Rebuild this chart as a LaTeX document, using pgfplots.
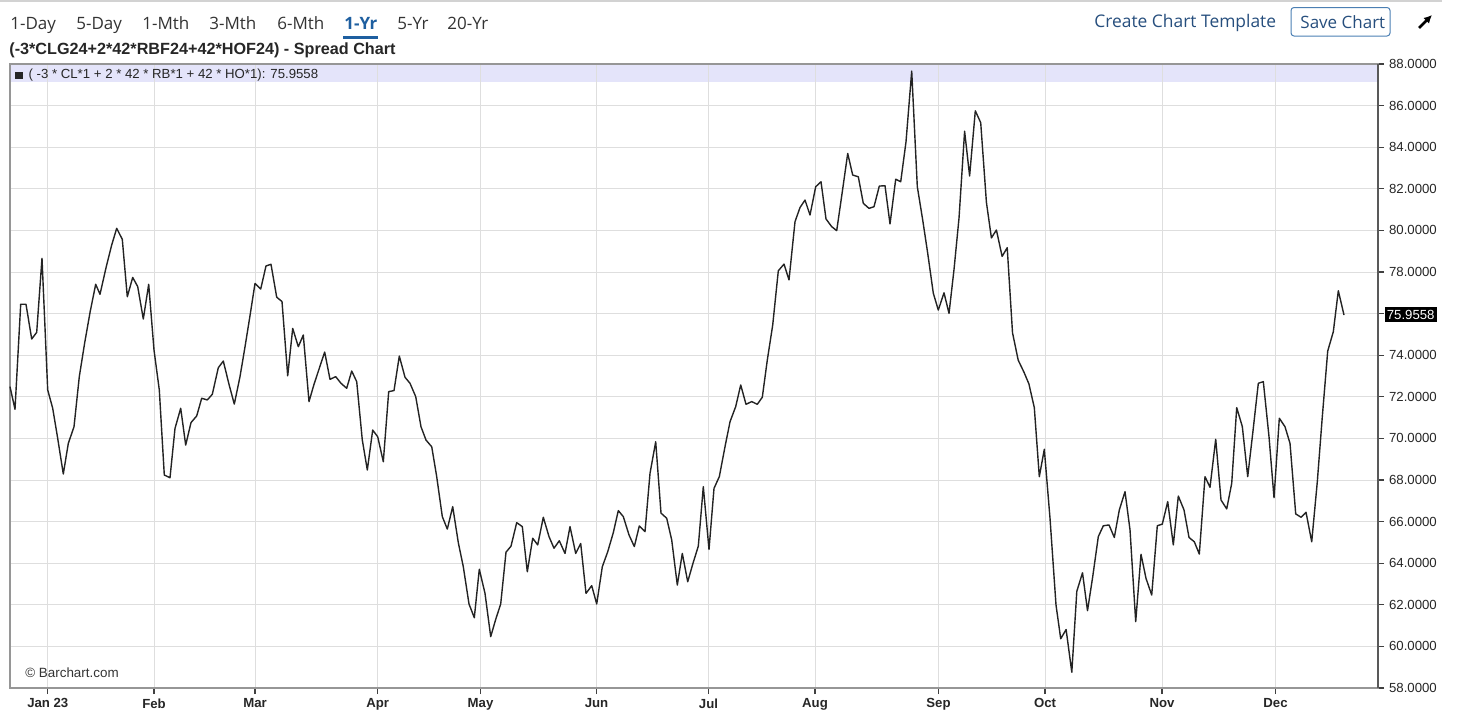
\documentclass[border=0pt]{standalone}
\usepackage{pgfplots}
\pgfplotsset{compat=1.18}
\usepackage{fontspec}
\setmainfont{Liberation Sans}
\newfontfamily\opensans{Open Sans}
\usetikzlibrary{arrows.meta}

\definecolor{gridc}{RGB}{222,222,222}
\definecolor{framec}{RGB}{150,150,150}
\definecolor{bandc}{RGB}{228,228,250}
\definecolor{linkblue}{RGB}{38,78,125}
\definecolor{tabblue}{RGB}{30,95,160}
\definecolor{txtc}{RGB}{51,51,51}
\definecolor{linec}{RGB}{35,35,35}

\begin{document}
\begin{tikzpicture}
\begin{scope}[x=0.5pt,y=-0.5pt]
\path[use as bounding box] (0,0) rectangle (1465,725);
\draw[gray!35, line width=0.8pt] (0,1) -- (1442,1);

% toolbar
\begin{scope}[every node/.style={anchor=base west, inner sep=0pt, text=txtc,
    font=\opensans\fontsize{8.5}{10}\selectfont}]
  \node at (10,29) {1-Day};
  \node at (76,29) {5-Day};
  \node at (142,29) {1-Mth};
  \node at (209,29) {3-Mth};
  \node at (277,29) {6-Mth};
  \node[text=tabblue, font=\opensans\bfseries\fontsize{8.5}{10}\selectfont] at (344,29) {1-Yr};
  \node at (397,29) {5-Yr};
  \node at (447,29) {20-Yr};
  \node[text=linkblue, font=\opensans\fontsize{8.7}{10}\selectfont] at (1094,27) {Create Chart Template};
  \node[text=linkblue] at (1300,28) {Save Chart};
\end{scope}
\draw[tabblue, line width=1.2pt] (343,37.5) -- (378,37.5);
\draw[tabblue!80, line width=0.5pt, rounded corners=1.5pt] (1291,7.5) rectangle (1390,36);
\draw[line width=1.3pt, -{Latex[length=4pt,width=4pt]}] (1419,28) -- (1432,15);

% title
\node[anchor=base west, inner sep=0pt, text=black!85,
  font=\bfseries\fontsize{8.1}{9}\selectfont] at (9,54.5)
  {(-3*CLG24+2*42*RBF24+42*HOF24) - Spread Chart};
\end{scope}

\begin{axis}[
  set layers=standard,
  at={(5pt,-344pt)}, anchor=south west,
  width=684pt, height=312pt, scale only axis,
  xmin=10, xmax=1378, ymin=58, ymax=88,
  axis line style={draw=framec, line width=0.6pt},
  xtick={47.8,154,255,377.7,480.5,596.5,708.5,815,938.5,1045,1162,1275.5},
  xticklabels={Jan 23,Feb,Mar,Apr,May,Jun,Jul,Aug,Sep,Oct,Nov,Dec},
  ytick={58,60,...,88},
  xtick pos=bottom, ytick pos=right,
  yticklabel pos=right,
  tick align=outside,
  major tick length=3pt,
  tick style={draw=black!75, line width=0.6pt},
  grid=major,
  grid style={draw=gridc, line width=0.5pt},
  xticklabel style={font=\bfseries\fontsize{6.6}{8}\selectfont, text=black!85, yshift=1.2pt},
  yticklabel style={font=\fontsize{6.6}{8}\selectfont, text=black!85, xshift=-1pt,
    /pgf/number format/.cd, fixed, fixed zerofill, precision=4, assume math mode=true},
  clip=false,
]
\begin{pgfonlayer}{axis background}
  \fill[bandc] (rel axis cs:0,1) rectangle (rel axis cs:1,0.97115);
\end{pgfonlayer}
\draw[black!65, line width=0.6pt] (rel axis cs:1,0) -- (rel axis cs:1,1);

\addplot[linec, line width=0.7pt, line join=round, mark=none] coordinates {
(10,72.49) (15,71.40) (20.7,76.45) (26,76.45) (31.7,74.78) (36.7,75.10) (42,78.66)
(47.7,72.33) (52.7,71.45) (57.7,70.0) (63.3,68.29) (68.3,69.76) (74,70.56) (79.3,72.97)
(84.7,74.6) (90.2,76.1) (95.7,77.41) (100,76.93) (106,78.2) (111.7,79.30) (116.7,80.10)
(122.3,79.57) (127.3,76.81) (132.7,77.74) (137.7,77.30) (143.3,75.74) (148.7,77.41)
(154,74.25) (159.3,72.33) (164.3,68.24) (170,68.11) (175,70.48) (180.7,71.45)
(185.7,69.68) (191,70.76) (196.7,71.08) (201.7,71.93) (207.3,71.85) (212.3,72.12)
(218.3,73.40) (223.3,73.72) (229,72.6) (234.3,71.65) (240,72.97) (245,74.4) (250,75.9)
(255,77.45) (260.7,77.18) (266,78.29) (271,78.37) (276.7,76.79) (282,76.58)
(287.7,73.01) (292.7,75.29) (298.3,74.41) (303.3,74.97) (309,71.77) (314,72.6)
(319.5,73.4) (324.7,74.15) (330,72.84) (335.7,72.97) (341,72.65) (346.7,72.41)
(351.7,73.24) (356.7,72.73) (362.3,69.92) (367.3,68.48) (372.7,70.40) (377.7,70.08)
(383.3,68.88) (388.7,72.25) (394,72.30) (399.3,73.96) (405,72.94) (410,72.65)
(415.7,72.01) (421,70.56) (426,69.92) (431.7,69.60) (436.7,68.16) (442.3,66.24)
(447.3,65.64) (452.7,66.72) (458.3,64.99) (463.3,63.83) (469,62.04) (474.3,61.38)
(479.3,63.71) (485,62.55) (490.7,60.47) (495.7,61.30) (500.7,62.04) (506,64.53)
(511,64.82) (516.7,65.95) (522.3,65.76) (527.3,63.59) (532.7,65.20) (537.7,64.88)
(543.3,66.21) (549,65.28) (554,64.72) (559.3,65.08) (565,64.47) (570,65.76)
(575.7,64.47) (580.7,64.95) (586,62.55) (591.7,62.92) (596.7,62.04) (602.3,63.83)
(607.7,64.55) (613.3,65.47) (618.3,66.53) (623.3,66.24) (629,65.36) (634.3,64.80)
(639.3,65.79) (645,65.52) (650,68.32) (655.7,69.84) (661,66.41) (666.7,66.16)
(671.7,65.12) (677.3,62.95) (682.3,64.47) (687.7,63.11) (693,64.0) (698.3,64.82)
(703.3,67.68) (709,64.66) (714,67.60) (719.3,68.16) (725,69.60) (730,70.80)
(735.7,71.53) (740.7,72.57) (746,71.64) (751.7,71.77) (757.3,71.64) (762.3,71.98)
(767.3,73.77) (772.7,75.45) (778.3,78.06) (784,78.38) (789,77.62) (795,80.42)
(800,81.10) (805,81.46) (810,80.74) (815.7,82.10) (821,82.34) (826,80.55)
(831.7,80.18) (836.7,79.99) (842.3,81.86) (847.7,83.70) (852.7,82.66) (858.3,82.58)
(863.3,81.30) (869,81.06) (874,81.14) (879.3,82.13) (885,82.15) (890,80.31)
(895.7,82.46) (900.7,82.34) (906,84.26) (911.7,87.66) (917.3,82.10) (922.7,80.50)
(927.7,78.90) (933.3,76.98) (938.3,76.17) (944,77.00) (949,76.01) (954,78.12)
(959,80.59) (964.6,84.77) (969.6,82.62) (975.3,85.75) (980.7,85.18) (986.4,81.35)
(991.4,79.64) (996.4,80.02) (1002.1,78.75) (1007.2,79.17) (1012.5,75.08)
(1018.2,73.76) (1023.9,73.19) (1028.9,72.62) (1034.3,71.48) (1039.3,68.16)
(1044.3,69.48) (1050,66.16) (1056,61.99) (1060.7,60.37) (1066.1,60.81) (1071.8,58.76)
(1076.8,62.65) (1082.5,63.54) (1087.5,61.72) (1092.7,63.35) (1098.3,65.28)
(1103.3,65.80) (1109,65.84) (1114.3,65.24) (1119.3,66.56) (1125,67.44) (1130,65.60)
(1135.7,61.19) (1141,64.43) (1146,63.27) (1151.7,62.47) (1157.3,65.80) (1162.3,65.88)
(1167.7,66.96) (1173.3,64.88) (1178.3,67.23) (1184,66.56) (1189,65.24) (1194.3,65.03)
(1199.3,64.44) (1205,68.16) (1210,67.65) (1215.7,69.96) (1221,67.04) (1226.7,66.61)
(1231.7,67.84) (1236.7,71.48) (1242.3,70.57) (1247.7,68.16) (1252.7,70.24)
(1258.3,72.65) (1263.3,72.73) (1269,70.08) (1274,67.15) (1279.3,70.97) (1285,70.56)
(1290,69.76) (1295.7,66.37) (1301,66.21) (1306,66.45) (1311.7,65.03) (1317.3,67.92)
(1322.3,71.05) (1327.7,74.20) (1333.3,75.13) (1338.3,77.10) (1344,75.93)
};

% legend line inside the band
\node[anchor=base west, inner sep=0pt, font=\fontsize{6.6}{7}\selectfont, text=black!85]
  at (axis cs:15,87.29) {\rule{3.6pt}{3.6pt}\hspace{3pt}( -3 * CL*1 + 2 * 42 * RB*1 + 42 * HO*1): 75.9558};
% copyright
\node[anchor=base west, inner sep=0pt, font=\fontsize{6.7}{8}\selectfont, text=black!80]
  at (axis cs:25,58.52) {\textcopyright\ Barchart.com};
% last value marker
\node[anchor=west, fill=black, text=white, inner xsep=1pt, inner ysep=1.2pt,
  font=\fontsize{6.6}{8}\selectfont] at ([xshift=3.2pt]axis cs:1378,75.9558) {75.9558};
\end{axis}
\end{tikzpicture}
\end{document}
